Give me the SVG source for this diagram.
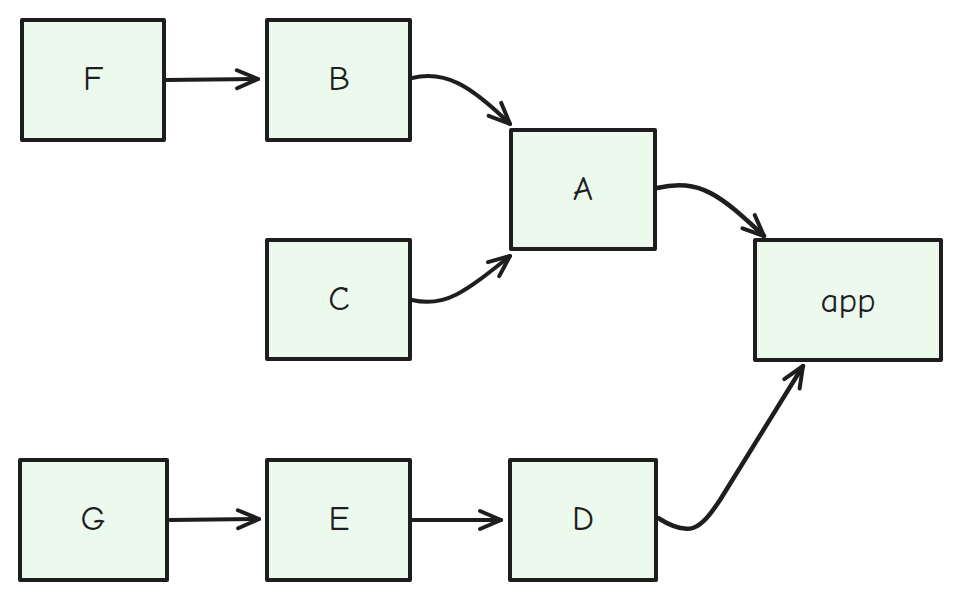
<svg xmlns="http://www.w3.org/2000/svg" width="961" height="600" viewBox="0 0 961 600">
<style>
.n rect{fill:#ebfaed;stroke:#1e1e1e;stroke-width:4;stroke-linejoin:round}
.n text{font-family:"Comic Neue","Liberation Sans",sans-serif;font-size:35px;fill:#1e1e1e;text-anchor:middle;dominant-baseline:central}
.e path{fill:none;stroke:#1e1e1e;stroke-width:4;stroke-linecap:round;stroke-linejoin:round;marker-end:url(#ah)}
</style>
<defs>
<marker id="ah" viewBox="-24 -13 28 26" refX="0" refY="0" markerWidth="28" markerHeight="26" markerUnits="userSpaceOnUse" orient="auto">
<path d="M-21,-9 L0,0 L-21,9" fill="none" stroke="#1e1e1e" stroke-width="4" stroke-linecap="round" stroke-linejoin="round"/>
</marker>
</defs>
<rect width="961" height="600" fill="#ffffff"/>
<g class="e" id="edges">
<path d="M166,80 L258,79"/>
<path d="M412,78 C445,70 470,85 510,124"/>
<path d="M412,300 C445,308 465,292 510,256"/>
<path d="M657,188 C700,178 720,195 764,236" style="stroke-width:4.5"/>
<path d="M170,520 L259,519"/>
<path d="M411,520 L501,520"/>
<path d="M658,518 C690,538 700,530 720,500 L803,366" style="stroke-width:4.5"/>
</g>
<g class="n" id="F"><rect x="22" y="20" width="142" height="120"/><text x="93" y="78">F</text></g>
<g class="n" id="B"><rect x="267" y="20" width="143" height="120"/><text x="339" y="78">B</text></g>
<g class="n" id="A"><rect x="511" y="130" width="144" height="119"/><text x="583" y="188">A</text></g>
<g class="n" id="C"><rect x="267" y="240" width="143" height="119"/><text x="339" y="298">C</text></g>
<g class="n" id="app"><rect x="755" y="240" width="186" height="120"/><text x="848" y="300">app</text></g>
<g class="n" id="G"><rect x="20" y="460" width="147" height="120"/><text x="93" y="518">G</text></g>
<g class="n" id="E"><rect x="267" y="460" width="143" height="120"/><text x="339" y="518">E</text></g>
<g class="n" id="D"><rect x="510" y="460" width="146" height="120"/><text x="583" y="518">D</text></g>
</svg>
